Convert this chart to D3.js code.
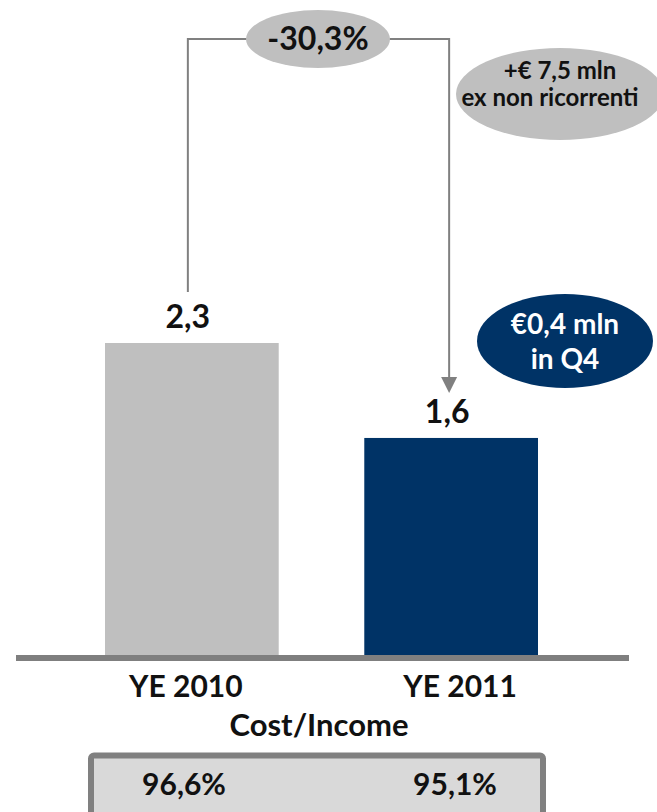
<!DOCTYPE html>
<html>
<head>
<meta charset="utf-8">
<script src="https://cdn.jsdelivr.net/npm/d3@7"></script>
<style>
  html, body { margin: 0; padding: 0; background: #fff; }
  svg text { font-family: Lato, "Open Sans", sans-serif; font-weight: 700; }
</style>
</head>
<body>
<div id="chart"></div>
<script>
const categories = ["YE 2010", "YE 2011"];
const values = [2.3, 1.6];
const barColors = ["#bfbfbf", "#003366"];
const costIncome = [96.6, 95.1];
const changeLabel = "-30,3%";
const noteGrey = ["+€ 7,5 mln", "ex non ricorrenti"];
const noteNavy = ["€0,4 mln", "in Q4"];

const width = 657;
const height = 812;
const baseY = 655;

const it = d3.formatLocale({ decimal: ",", thousands: ".", grouping: [3], currency: ["€", ""] });
const fmt1 = it.format(".1f");

const svg = d3.select("#chart").append("svg")
  .attr("width", width)
  .attr("height", height);

const x = d3.scaleBand()
  .domain(categories)
  .range([105, 538])
  .paddingInner(0.33)
  .paddingOuter(0);

const y = d3.scaleLinear()
  .domain([0, 2.3])
  .range([baseY, 343]);

const grey = "#808080";

// bracket with arrow
const leftX = x(categories[0]) + x.bandwidth() / 2 - 4;
const rightX = x(categories[1]) + x.bandwidth() / 2 - 2;
const topY = 39;
svg.append("path")
  .attr("d", `M${leftX},${y(values[0]) - 51} V${topY} H${rightX} V${y(values[1]) - 60}`)
  .attr("fill", "none")
  .attr("stroke", grey)
  .attr("stroke-width", 2);
const tipY = y(values[1]) - 45;
svg.append("path")
  .attr("d", `M${rightX - 8},${tipY - 16} L${rightX + 8},${tipY - 16} L${rightX},${tipY} Z`)
  .attr("fill", grey);

// change ellipse
svg.append("ellipse")
  .attr("cx", 318).attr("cy", 39).attr("rx", 72).attr("ry", 29)
  .attr("fill", "#bfbfbf");
svg.append("text")
  .attr("x", 318).attr("y", 50)
  .attr("text-anchor", "middle")
  .attr("font-size", 32)
  .attr("fill", "#111")
  .text(changeLabel);

// grey note
svg.append("ellipse")
  .attr("cx", 560).attr("cy", 94).attr("rx", 104).attr("ry", 46)
  .attr("fill", "#bfbfbf");
svg.append("text")
  .attr("text-anchor", "middle")
  .attr("font-size", 24)
  .attr("fill", "#111")
  .selectAll("tspan")
  .data(noteGrey)
  .join("tspan")
  .attr("x", (d, i) => i ? 550 : 560)
  .attr("y", (d, i) => 79 + i * 27)
  .text(d => d);

// navy note
svg.append("ellipse")
  .attr("cx", 565).attr("cy", 341).attr("rx", 88).attr("ry", 47)
  .attr("fill", "#003366");
svg.append("text")
  .attr("text-anchor", "middle")
  .attr("font-size", 28)
  .attr("fill", "#fff")
  .selectAll("tspan")
  .data(noteNavy)
  .join("tspan")
  .attr("x", 565)
  .attr("y", (d, i) => 334 + i * 35)
  .text(d => d);

// bars
svg.selectAll("rect.bar")
  .data(values)
  .join("rect")
  .attr("class", "bar")
  .attr("x", (d, i) => x(categories[i]))
  .attr("y", d => y(d))
  .attr("width", x.bandwidth())
  .attr("height", d => baseY - y(d))
  .attr("fill", (d, i) => barColors[i]);

svg.selectAll("text.value")
  .data(values)
  .join("text")
  .attr("class", "value")
  .attr("x", (d, i) => x(categories[i]) + x.bandwidth() / 2 - 4)
  .attr("y", d => y(d) - 15)
  .attr("text-anchor", "middle")
  .attr("font-size", 32)
  .attr("fill", "#111")
  .text(d => fmt1(d));

// baseline
svg.append("rect")
  .attr("x", 16).attr("y", baseY)
  .attr("width", 613).attr("height", 6)
  .attr("fill", "#7f7f7f");

// category labels
const catOffset = [-6, 9];
svg.selectAll("text.cat")
  .data(categories)
  .join("text")
  .attr("class", "cat")
  .attr("x", (d, i) => x(d) + x.bandwidth() / 2 + catOffset[i])
  .attr("y", 697)
  .attr("text-anchor", "middle")
  .attr("font-size", 30)
  .attr("fill", "#111")
  .text(d => d);

svg.append("text")
  .attr("x", 319).attr("y", 736)
  .attr("text-anchor", "middle")
  .attr("font-size", 31)
  .attr("fill", "#111")
  .text("Cost/Income");

// cost/income box
svg.append("rect")
  .attr("x", 91).attr("y", 755.5)
  .attr("width", 452).attr("height", 70)
  .attr("rx", 3)
  .attr("fill", "#d9d9d9")
  .attr("stroke", grey)
  .attr("stroke-width", 6);

const ciX = [184, 455];
svg.selectAll("text.ci")
  .data(costIncome)
  .join("text")
  .attr("class", "ci")
  .attr("x", (d, i) => ciX[i])
  .attr("y", 795)
  .attr("text-anchor", "middle")
  .attr("font-size", 30)
  .attr("fill", "#111")
  .text(d => fmt1(d) + "%");
</script>
</body>
</html>
